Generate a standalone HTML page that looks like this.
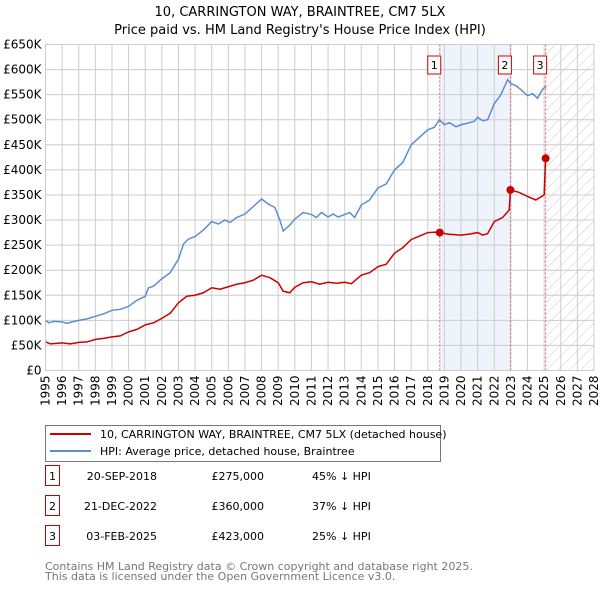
<!DOCTYPE html>
<html><head><meta charset="utf-8"><style>
body{margin:0;background:#fff;font-family:"DejaVu Sans","Liberation Sans",sans-serif;}
svg text{font-family:"DejaVu Sans","Liberation Sans",sans-serif;}
</style></head><body>
<svg id="chart" width="600" height="590" viewBox="0 0 600 590" xmlns="http://www.w3.org/2000/svg">
<defs>
<pattern id="hatch" patternUnits="userSpaceOnUse" width="8" height="8" patternTransform="rotate(45)">
<line x1="0" y1="0" x2="0" y2="8" stroke="#ccc" stroke-width="1"/>
</pattern>
</defs>
<text x="300" y="16" text-anchor="middle" font-size="13">10, CARRINGTON WAY, BRAINTREE, CM7 5LX</text>
<text x="300" y="34" text-anchor="middle" font-size="13">Price paid vs. HM Land Registry's House Price Index (HPI)</text>
<g id="plot"></g>
<g>
<rect x="45.5" y="425.5" width="395" height="36" fill="#fff" stroke="#777"/>
<line x1="50" y1="434" x2="91" y2="434" stroke="#cc0000" stroke-width="2"/>
<text x="100" y="438" font-size="11">10, CARRINGTON WAY, BRAINTREE, CM7 5LX (detached house)</text>
<line x1="50" y1="451" x2="91" y2="451" stroke="#5b8fd0" stroke-width="2"/>
<text x="100" y="455" font-size="11">HPI: Average price, detached house, Braintree</text>
</g>
<g id="table"></g>
<text x="45" y="570" font-size="11" fill="#777">Contains HM Land Registry data © Crown copyright and database right 2025.</text>
<text x="45" y="580" font-size="11" fill="#777">This data is licensed under the Open Government Licence v3.0.</text>
</svg>
<script>
const hpiYears=[1995,1995.2,1995.5,1996,1996.3,1996.6,1997,1997.5,1998,1998.5,1999,1999.5,2000,2000.5,2001,2001.2,2001.5,2002,2002.5,2003,2003.3,2003.6,2004,2004.5,2005,2005.4,2005.8,2006.1,2006.5,2007,2007.5,2008,2008.4,2008.8,2009.1,2009.3,2009.7,2010,2010.5,2011,2011.3,2011.6,2012,2012.3,2012.6,2013,2013.3,2013.6,2014,2014.5,2015,2015.5,2016,2016.5,2017,2017.5,2018,2018.4,2018.7,2019,2019.3,2019.7,2020,2020.4,2020.8,2021,2021.3,2021.6,2022,2022.4,2022.8,2023,2023.3,2023.6,2024,2024.3,2024.6,2024.9,2025.1];
const hpiValues=[100,95,98,97,94,97,100,103,108,113,120,122,128,140,148,165,168,183,195,222,252,262,267,280,297,292,300,295,305,312,327,342,332,325,300,278,290,302,315,311,305,315,306,312,306,311,315,305,330,340,364,372,400,415,450,465,480,485,500,490,494,486,490,493,497,505,498,500,532,550,580,572,568,560,548,552,543,560,567];
const ppYears=[1995,1995.3,1996,1996.5,1997,1997.5,1998,1998.5,1999,1999.5,2000,2000.5,2001,2001.5,2002,2002.5,2003,2003.5,2004,2004.5,2005,2005.5,2006,2006.5,2007,2007.5,2008,2008.5,2009,2009.3,2009.7,2010,2010.5,2011,2011.5,2012,2012.5,2013,2013.4,2014,2014.5,2015,2015.5,2016,2016.5,2017,2017.5,2018,2018.5,2018.72,2019.2,2020,2020.5,2021,2021.3,2021.6,2022,2022.5,2022.9,2022.97,2023.5,2024,2024.5,2025.0,2025.09];
const ppValues=[57,53,55,53,56,57,62,64,67,69,77,82,91,95,104,114,135,148,150,155,165,162,167,172,175,180,190,185,175,158,155,166,175,177,172,176,174,176,173,190,195,207,212,234,245,261,268,275,276,275,272,270,272,275,270,273,297,305,320,360,355,347,340,350,423];
const yTicks=[0,50,100,150,200,250,300,350,400,450,500,550,600,650];
const yLabels=["£0","£50K","£100K","£150K","£200K","£250K","£300K","£350K","£400K","£450K","£500K","£550K","£600K","£650K"];
const xTicks=[1995,1996,1997,1998,1999,2000,2001,2002,2003,2004,2005,2006,2007,2008,2009,2010,2011,2012,2013,2014,2015,2016,2017,2018,2019,2020,2021,2022,2023,2024,2025,2026,2027,2028];
const saleYears=[2018.72,2022.97,2025.09];
const saleValues=[275,360,423];
const saleLabels=["1","2","3"];
const saleDates=["20-SEP-2018","21-DEC-2022","03-FEB-2025"];
const salePrices=["£275,000","£360,000","£423,000"];
const saleDiffs=["45% ↓ HPI","37% ↓ HPI","25% ↓ HPI"];

const X0=45.5,X1=594,Y0=370.5,Y1=44.5;
const xs=y=>X0+(y-1995)/(2028-1995)*(X1-X0);
const ys=v=>Y0-(v/650)*(Y0-Y1);
const NS="http://www.w3.org/2000/svg";
const plot=document.getElementById('plot');
function mk(tag,attrs,parent){const e=document.createElementNS(NS,tag);for(const k in attrs)e.setAttribute(k,attrs[k]);(parent||plot).appendChild(e);return e;}

const bg=mk('rect',{x:X0,y:Y1,width:X1-X0,height:Y0-Y1,fill:'#fff'});


const shade=mk('rect',{x:xs(saleYears[0]),y:Y1,width:xs(saleYears[1])-xs(saleYears[0]),height:Y0-Y1,fill:'#eef3fc'});


const hatch=mk('rect',{x:xs(2025.1),y:Y1,width:X1-xs(2025.1),height:Y0-Y1,fill:'url(#hatch)'});



yTicks.forEach((t,i)=>{
 const g=mk('line',{x1:X0,x2:X1,y1:ys(t),y2:ys(t),stroke:'#ccc','stroke-width':1});
 
 
 const l=mk('text',{x:X0-4,y:ys(t)+4,'text-anchor':'end','font-size':12});
 
 
 l.textContent=yLabels[i];
});
xTicks.forEach(t=>{
 const g=mk('line',{x1:xs(t),x2:xs(t),y1:Y1,y2:Y0,stroke:'#ccc','stroke-width':1});
 
 
 const l=mk('text',{x:0,y:0,'text-anchor':'end','font-size':12,transform:`translate(${xs(t)+4},${Y0+5}) rotate(-90)`});
 
 
 l.textContent=t;
});
saleYears.forEach((s,i)=>{
 const v=mk('line',{x1:xs(s),x2:xs(s),y1:Y1,y2:Y0,stroke:'#e06060','stroke-width':1,'stroke-dasharray':'2,2'});
 
 
});
const hp=mk('polyline',{points:hpiYears.map((y,i)=>xs(y)+','+ys(hpiValues[i])).join(' '),fill:'none',stroke:'#5b8fd0','stroke-width':1.5});


const pp=mk('polyline',{points:ppYears.map((y,i)=>xs(y)+','+ys(ppValues[i])).join(' '),fill:'none',stroke:'#cc0000','stroke-width':1.5});


saleYears.forEach((s,i)=>{
 const d=mk('circle',{cx:xs(s),cy:ys(saleValues[i]),r:4,fill:'#cc0000'});
 
 
 const b=mk('rect',{x:xs(s)-12,y:56,width:13,height:18,fill:'#fff',stroke:'#cc0000'});
 
 
 const t=mk('text',{x:xs(s)-5.5,y:69,'text-anchor':'middle','font-size':11});
 
 
 t.textContent=saleLabels[i];
});
const fr=mk('rect',{x:X0,y:Y1,width:X1-X0,height:Y0-Y1,fill:'none',stroke:'#ccc'});



const tbl=document.getElementById('table');
saleLabels.forEach((lab,i)=>{
 const y=483+i*30;
 const b=mk('rect',{x:45.5,y:y-17.5,width:14,height:20,fill:'#fff',stroke:'#cc0000'},tbl);
 
 
 const n=mk('text',{x:52.5,y:y-3,'text-anchor':'middle','font-size':11},tbl);
 
 
 n.textContent=lab;
 const d=mk('text',{x:157,y:y-3,'text-anchor':'end','font-size':11},tbl);
 
 
 d.textContent=saleDates[i];
 const p=mk('text',{x:264,y:y-3,'text-anchor':'end','font-size':11},tbl);
 
 
 p.textContent=salePrices[i];
 const h=mk('text',{x:312,y:y-3,'font-size':11},tbl);
 
 
 h.textContent=saleDiffs[i];
});
</script>
</body></html>
